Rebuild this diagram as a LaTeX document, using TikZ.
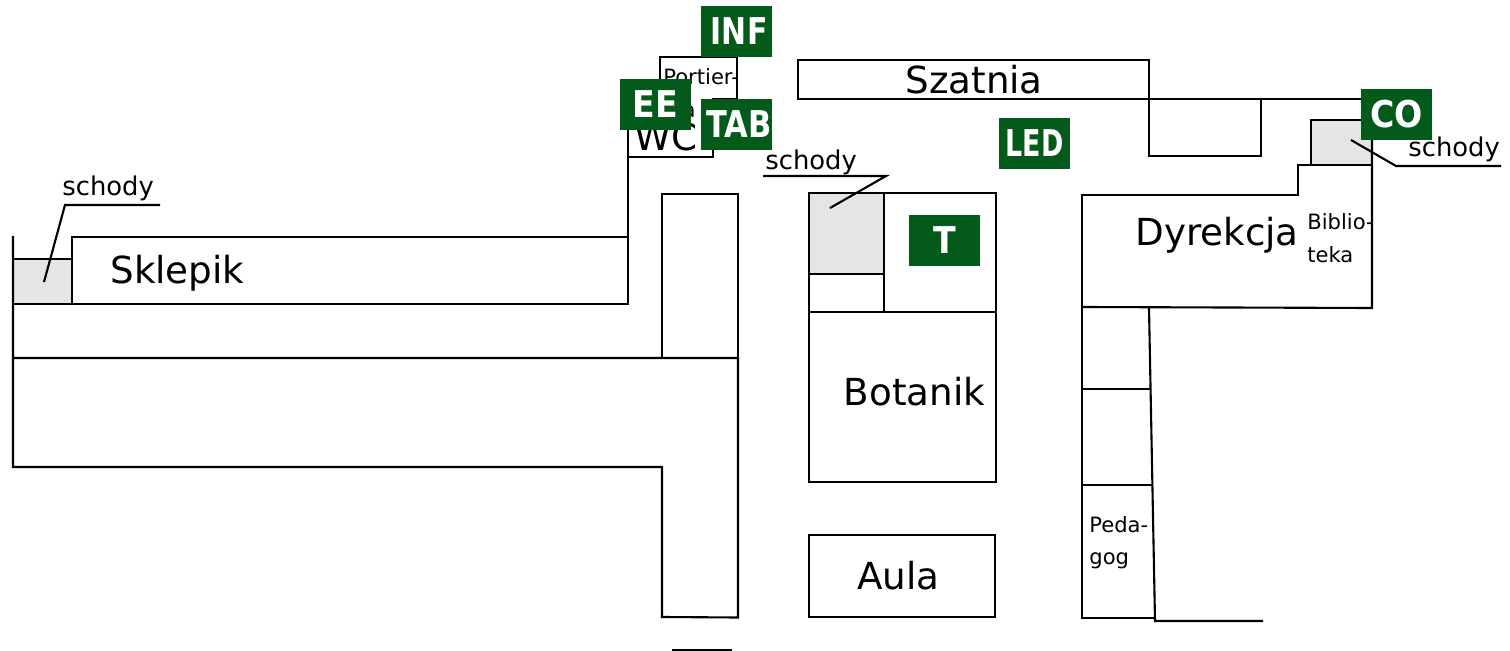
\documentclass[tikz,border=0pt]{standalone}
\usepackage{fontspec}
\setmainfont{DejaVu Sans}
\newfontfamily\tagfont[FakeStretch=0.9]{DejaVu Sans Bold}
\definecolor{tagcolor}{HTML}{035A1A}
\definecolor{stairs}{HTML}{E5E5E5}
\tikzset{
	wall/.style={line width=1.2pt,black},
	bigroom/.style={anchor=base west,inner sep=0pt,font=\fontsize{21.2}{21.2}\selectfont},
	medroom/.style={anchor=base west,inner sep=0pt,font=\fontsize{14.7}{14.7}\selectfont},
	smallroom/.style={anchor=base west,inner sep=0pt,font=\fontsize{12}{12}\selectfont},
	greentag/.style={fill=tagcolor,text=white,minimum width=40.2pt,minimum height=28.9pt,inner sep=0pt,font=\tagfont\fontsize{21}{21}\selectfont}
}
\begin{document}
\begin{tikzpicture}[x=0.02cm,y=-0.02cm]
	\useasboundingbox (0,0) rectangle (1510,651);
	
	% stairs
	\draw[wall][fill=stairs](13,259)--(72,259)--(72,304)--(13,304)--cycle;
	\draw[wall][fill=stairs](809,193)--(884,193)--(884,274)--(809,274)--cycle;
	\draw[wall][fill=stairs](1311,165)--(1311,120)--(1372,120)--(1372,165)--cycle;
	
	% left wing
	\draw[wall](13,236)--(13,467)--(662,467)--(662,617)--(738,617.5)--(738,358)--(13,358);
	\draw[wall](13,304)--(628,304)--(628,157)--(713,157)--(713,140);
	\draw[wall](72,259)--(72,237)--(628,237);
	\draw[wall](662,358)--(662,194)--(738,194)--(738,358);
	\draw[wall](628,157)--(628,100);
	\draw[wall](712,99)--(737,99)--(737,57)--(660,57)--(660,90);
	
	% middle block
	\draw[wall](809,193)--(996,193)--(996,482)--(809,482)--cycle;
	\draw[wall](809,312)--(996,312);
	\draw[wall](884,193)--(884,312);
	\draw[wall](809,535)--(995,535)--(995,617)--(809,617)--cycle;
	
	% right wing
	\draw[wall](798,60)--(1149,60)--(1149,99)--(798,99)--cycle;
	\draw[wall](1149,99)--(1370,99);
	\draw[wall](1149,99)--(1149,156)--(1261,156)--(1261,99);
	\draw[wall](1082,307)--(1082,195)--(1298,195)--(1298,165)--(1372,165);
	\draw[wall](1372,120)--(1372,308)--(1082,307);
	\draw[wall](1082,307)--(1082,618)--(1155,618);
	\draw[wall](1149,308)--(1155,621)--(1263,621);
	\draw[wall](1082,389)--(1151,389);
	\draw[wall](1082,485)--(1153,485);
	\draw[wall](672,650)--(732,650);
	
	% leaders
	\draw[wall](44,282)--(65,205)--(160,205);
	\draw[wall](830,208)--(886,176)--(763,176);
	\draw[wall](1351,140)--(1396,166)--(1501,166);
	
	% labels
	\node[bigroom] (szatnia) at (905,94){Szatnia};
	\node[bigroom] (sklepik) at (110,283.5){Sklepik};
	\node[bigroom] (dyrekcja) at (1135,245.5){Dyrekcja};
	\node[bigroom] (botanik) at (843.5,406){Botanik};
	\node[bigroom] (aula) at (857,589){Aula};
	\node[bigroom] (wc) at (634,150.5){WC};
	
	\node[medroom] (schodyA) at (62,195.5){schody};
	\node[medroom] (schodyB) at (765,170){schody};
	\node[medroom] (schodyC) at (1408,157){schody};
	
	\node[smallroom] (portierA) at (663,85){Portier-};
	\node[smallroom] (portierB) at (663,118){nia};
	\node[smallroom] (biblioA) at (1307,230){Biblio-};
	\node[smallroom] (biblioB) at (1307,263){teka};
	\node[smallroom] (pedaA) at (1089,532){Peda-};
	\node[smallroom] (pedaB) at (1089,564){gog};
	
	% green tags
	\node[greentag] (inf) at (736.5,31.5){\kern3pt\scalebox{.9}[1]{INF}};
	\node[greentag] (ee) at (655.5,104.5){EE};
	\node[greentag] (tab) at (736.5,124.5){\kern3pt\scalebox{.92}[1]{TAB}};
	\node[greentag] (co) at (1396.5,114.5){CO};
	\node[greentag] (led) at (1034.5,143.5){\scalebox{.81}[1]{LED}};
	\node[greentag] (t) at (944.5,240.5){T};
\end{tikzpicture}
\end{document}
